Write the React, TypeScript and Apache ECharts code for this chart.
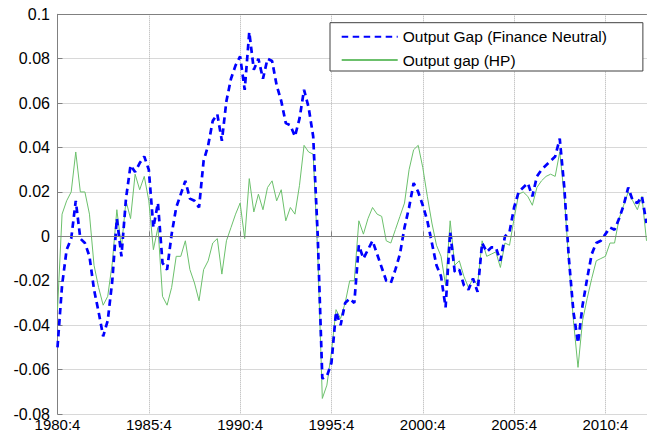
import React, { useEffect, useRef } from "react";
import * as echarts from "echarts";

const startYear = 1980;
const startQuarter = 4;

const financeNeutral = [
  -0.050, -0.022, -0.006, -0.001, 0.016, -0.001, -0.003, -0.009, -0.024, -0.034,
  -0.045, -0.038, -0.020, 0.008, -0.009, 0.017, 0.032, 0.029, 0.033, 0.036,
  0.030, 0.004, 0.015, -0.012, -0.015, 0.001, 0.013, 0.019, 0.025, 0.017,
  0.016, 0.013, 0.034, 0.041, 0.052, 0.055, 0.043, 0.061, 0.071, 0.077,
  0.081, 0.066, 0.092, 0.075, 0.080, 0.071, 0.080, 0.079, 0.068, 0.061,
  0.051, 0.050, 0.045, 0.053, 0.066, 0.058, 0.045, 0.000, -0.064, -0.063,
  -0.057, -0.034, -0.040, -0.030, -0.028, -0.030, -0.004, -0.010, -0.006, -0.002,
  -0.008, -0.014, -0.020, -0.021, -0.015, -0.008, 0.004, 0.013, 0.024, 0.020,
  0.014, 0.007, -0.003, -0.013, -0.018, -0.032, 0.002, -0.016, -0.015, -0.022,
  -0.024, -0.019, -0.025, -0.003, -0.007, -0.005, -0.005, -0.011, 0.000, 0.002,
  0.013, 0.020, 0.022, 0.024, 0.018, 0.027, 0.030, 0.032, 0.034, 0.036,
  0.044, 0.022, -0.010, -0.034, -0.048, -0.031, -0.019, -0.008, -0.003, -0.002,
  0.001, 0.004, 0.003, 0.008, 0.014, 0.022, 0.016, 0.015, 0.018, 0.006,
];

const hpGap = [
  -0.033, 0.010, 0.016, 0.020, 0.038, 0.020, 0.020, 0.010, -0.013, -0.023,
  -0.031, -0.027, -0.012, 0.012, -0.005, 0.016, 0.008, 0.028, 0.021, 0.027,
  0.016, -0.006, 0.004, -0.027, -0.031, -0.023, -0.009, -0.009, -0.002, -0.015,
  -0.021, -0.029, -0.015, -0.011, -0.003, -0.001, -0.017, -0.002, 0.004, 0.010,
  0.015, -0.001, 0.026, 0.011, 0.019, 0.012, 0.022, 0.025, 0.016, 0.021,
  0.007, 0.013, 0.010, 0.023, 0.041, 0.038, 0.037, -0.008, -0.073, -0.067,
  -0.052, -0.033, -0.037, -0.030, -0.020, -0.020, 0.007, 0.001, 0.008, 0.013,
  0.010, 0.009, -0.002, -0.003, 0.003, 0.009, 0.015, 0.030, 0.039, 0.041,
  0.031, 0.018, 0.006, -0.004, -0.009, -0.022, 0.007, -0.013, -0.011, -0.018,
  -0.023, -0.019, -0.022, -0.002, -0.009, -0.008, -0.007, -0.014, -0.003, -0.004,
  0.008, 0.019, 0.020, 0.018, 0.014, 0.022, 0.025, 0.027, 0.028, 0.027,
  0.038, 0.018, -0.012, -0.038, -0.059, -0.038, -0.028, -0.019, -0.011, -0.010,
  -0.009, -0.003, -0.003, 0.008, 0.014, 0.020, 0.016, 0.012, 0.018, -0.002,
];

const seriesNames = ["Output Gap (Finance Neutral)", "Output gap (HP)"];
const yTicks = { min: -0.08, max: 0.1, interval: 0.02 };
const labelEvery = 20;

const quarters: string[] = financeNeutral.map((_, i) => {
  const q0 = startQuarter - 1 + i;
  return `${startYear + Math.floor(q0 / 4)}:${(q0 % 4) + 1}`;
});

const FONT = "'Liberation Sans', Arial, Helvetica, sans-serif";
const GRID_COLOR = "#b0b0b0";
const AXIS_COLOR = "#808080";
const BLUE = "#0000ff";
const GREEN = "#6cc06c";

export default function App() {
  const ref = useRef<HTMLDivElement>(null);
  useEffect(() => {
    if (!ref.current) return;
    const chart = echarts.init(ref.current, undefined, { renderer: "svg" });
    const showAt = (i: number) => i % labelEvery === 0;
    chart.setOption({
      animation: false,
      backgroundColor: "#ffffff",
      grid: { left: 57.5, right: 0.5, top: 14.3, bottom: 20 },
      legend: {
        orient: "vertical",
        left: 330,
        top: 22.7,
        padding: [6, 36, 3, 10.7],
        itemWidth: 56,
        itemHeight: 16,
        itemGap: 7.3,
        backgroundColor: "#ffffff",
        borderColor: "#404040",
        borderWidth: 1,
        borderRadius: 0,
        itemStyle: { opacity: 0 },
        textStyle: { fontFamily: FONT, fontSize: 15.5, color: "#000" },
        data: seriesNames,
      },
      xAxis: [
        {
          type: "category",
          data: quarters,
          boundaryGap: false,
          axisLine: { show: true, lineStyle: { color: AXIS_COLOR, width: 1 } },
          axisTick: { show: true, inside: true, length: 5, interval: showAt, lineStyle: { color: AXIS_COLOR } },
          axisLabel: {
            interval: showAt,
            fontFamily: FONT,
            fontSize: 15,
            color: "#000",
            margin: 2.5,
          },
          splitLine: {
            show: true,
            interval: showAt,
            lineStyle: { color: GRID_COLOR, type: "dotted", width: 1 },
          },
        },
        {
          type: "category",
          data: quarters,
          boundaryGap: false,
          position: "top",
          axisLine: { show: true, lineStyle: { color: AXIS_COLOR, width: 1 } },
          axisTick: { show: false },
          axisLabel: { show: false },
          splitLine: { show: false },
        },
      ],
      yAxis: {
        type: "value",
        min: yTicks.min,
        max: yTicks.max,
        interval: yTicks.interval,
        axisLine: { show: true, lineStyle: { color: AXIS_COLOR, width: 1 } },
        axisTick: { show: true, inside: true, length: 5, lineStyle: { color: AXIS_COLOR } },
        axisLabel: {
          fontFamily: FONT,
          fontSize: 16,
          color: "#000",
          margin: 7.5,
          formatter: (v: number) => String(+v.toFixed(2)),
        },
        splitLine: { show: true, lineStyle: { color: GRID_COLOR, type: "dotted", width: 1 } },
      },
      series: [
        {
          name: seriesNames[0],
          type: "line",
          data: financeNeutral,
          symbol: "none",
          z: 3,
          lineStyle: { color: BLUE, width: 2.7, type: [6.5, 4.5] },
          itemStyle: { color: BLUE },
        },
        {
          name: seriesNames[1],
          type: "line",
          data: hpGap,
          symbol: "none",
          z: 2,
          lineStyle: { color: GREEN, width: 1 },
          itemStyle: { color: GREEN },
          markLine: {
            silent: true,
            symbol: ["none", "none"],
            label: { show: false },
            lineStyle: { color: AXIS_COLOR, type: "solid", width: 1 },
            data: [{ yAxis: 0 }],
          },
        },
      ],
    });
    return () => chart.dispose();
  }, []);
  return (
    <div
      ref={ref}
      style={{ position: "absolute", left: 0, top: 0, width: 647, height: 434 }}
    />
  );
}
